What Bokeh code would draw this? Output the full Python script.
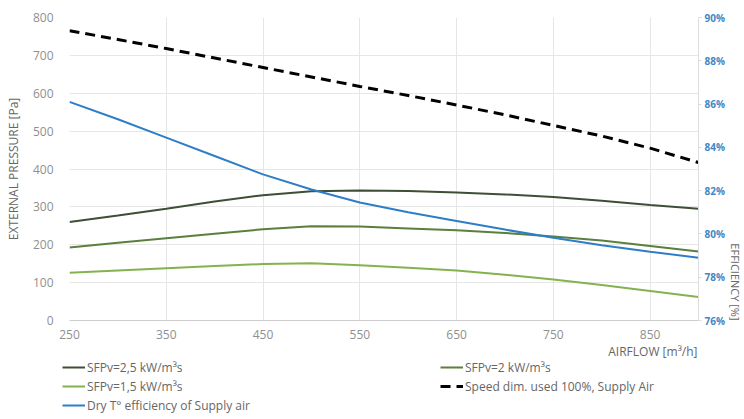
from bokeh.plotting import figure
from bokeh.layouts import column
from bokeh.models import (LinearAxis, Range1d, Legend, LegendItem, Title, Label,
                          PrintfTickFormatter, FixedTicker)
from bokeh.embed import file_html
from bokeh.resources import INLINE

# ---- data ----
airflow = [250, 300, 350, 400, 450, 500, 550, 600, 650, 700, 750, 800, 850, 900]
sfp_25 = [260, 277, 295, 314, 331, 341, 343, 342, 338, 333, 326, 316, 305, 295]
sfp_20 = [193, 205, 217, 229, 241, 249, 248, 243, 238, 231, 222, 211, 197, 182]
sfp_15 = [126, 132, 138, 144, 149, 151, 146, 139, 132, 121, 108, 94, 78, 62]
speed_100 = [765, 742, 718, 693, 668, 643, 618, 594, 569, 543, 515, 487, 455, 417]
dry_eff = [86.1, 85.3, 84.45, 83.6, 82.75, 82.05, 81.45, 81.0, 80.6, 80.2, 79.82, 79.48, 79.18, 78.9]

x_ticks = [250, 350, 450, 550, 650, 750, 850]
y_ticks = [0, 100, 200, 300, 400, 500, 600, 700, 800]
eff_ticks = [76, 78, 80, 82, 84, 86, 88, 90]

labels = ["SFPv=2,5 kW/m³s", "SFPv=2 kW/m³s", "SFPv=1,5 kW/m³s",
          "Speed dim. used 100%, Supply Air", "Dry T° efficiency of Supply air"]
colors = ["#3f4e37", "#5b7f3c", "#84b24e", "black", "#2e7dc7"]
dashes = ["solid", "solid", "solid", "10 6", "solid"]
widths = [2, 2, 2, 3, 2]

FONT = "Open Sans"
GRID = "#e6e6e6"
TXT = "#666666"

p = figure(width=744, height=342, x_range=Range1d(250, 900), y_range=Range1d(0, 800),
           output_backend="svg", toolbar_location=None,
           min_border_left=69, min_border_right=46, min_border_top=17, min_border_bottom=22)
p.outline_line_color = None
p.extra_y_ranges = {"eff": Range1d(76, 90)}

# primary axes
p.xaxis.ticker = FixedTicker(ticks=x_ticks)
p.yaxis.ticker = FixedTicker(ticks=y_ticks)
for ax in (p.xaxis[0], p.yaxis[0]):
    ax.major_label_text_font = FONT
    ax.major_label_text_font_size = "12px"
    ax.major_label_text_color = "#8f8f8f"
    ax.major_tick_line_color = None
    ax.minor_tick_line_color = None
p.xaxis.axis_line_color = "#cccccc"
p.yaxis.axis_line_color = None
p.xaxis.major_label_standoff = 3
p.yaxis.major_label_standoff = 10
p.yaxis.axis_label = "EXTERNAL PRESSURE [Pa]"
p.yaxis.axis_label_text_font = FONT
p.yaxis.axis_label_text_font_size = "12px"
p.yaxis.axis_label_text_font_style = "normal"
p.yaxis.axis_label_text_color = TXT
p.yaxis.axis_label_standoff = 8
p.xgrid.grid_line_color = GRID
p.ygrid.grid_line_color = GRID

# right efficiency axis
right = LinearAxis(y_range_name="eff", ticker=FixedTicker(ticks=eff_ticks),
                   formatter=PrintfTickFormatter(format="%d%%"))
right.major_label_text_font = FONT
right.major_label_text_font_size = "10px"
right.major_label_text_font_style = "bold"
right.major_label_text_color = "#3f88c5"
right.axis_line_color = "#dddddd"
right.major_tick_line_color = "#dddddd"
right.major_tick_out = 3
right.major_tick_in = 0
right.minor_tick_line_color = None
right.major_label_standoff = 3
p.add_layout(right, "right")

p.add_layout(Title(text="EFFICIENCY [%]", align="right", text_font=FONT, text_font_size="11px",
                   text_font_style="normal", text_color=TXT, standoff=0, offset=0), "right")

# lines
for ys, c, w, d in zip([sfp_25, sfp_20, sfp_15, speed_100], colors, widths, dashes):
    p.line(airflow, ys, line_color=c, line_width=w, line_dash=d)
p.line(airflow, dry_eff, y_range_name="eff", line_color=colors[4], line_width=2)

# legend strip below the chart
lf = figure(width=744, height=77, x_range=Range1d(0, 744), y_range=Range1d(0, 77),
            output_backend="svg", toolbar_location=None,
            x_axis_location=None, y_axis_location=None, min_border=0)
lf.frame_align = False
lf.outline_line_color = None
lf.grid.visible = False
lr = [lf.line([0], [0], line_color=c, line_width=w, line_dash=d)
      for c, w, d in zip(colors, widths, dashes)]

def make_legend(items, loc):
    lg = Legend(items=items, location=loc, orientation="vertical")
    lg.padding = 0
    lg.margin = 0
    lg.spacing = 1
    lg.border_line_color = None
    lg.background_fill_alpha = 0
    lg.glyph_width = 23
    lg.glyph_height = 18
    lg.label_height = 18
    lg.label_standoff = 2
    lg.label_text_font = FONT
    lg.label_text_font_size = "12px"
    lg.label_text_color = TXT
    return lg

leg1 = make_legend([LegendItem(label=labels[0], renderers=[lr[0]]),
                    LegendItem(label=labels[2], renderers=[lr[2]]),
                    LegendItem(label=labels[4], renderers=[lr[4]])], (62, 5))
leg2 = make_legend([LegendItem(label=labels[1], renderers=[lr[1]]),
                    LegendItem(label=labels[3], renderers=[lr[3]])], (440, 24))
lf.add_layout(leg1, "center")
lf.add_layout(leg2, "center")
lf.add_layout(Label(x=697, y=68, text="AIRFLOW [m³/h]", text_align="right",
                    text_baseline="middle", text_font=FONT, text_font_size="12px",
                    text_color=TXT))

layout = column(p, lf, spacing=0)
open("out.html", "w").write(file_html(layout, INLINE))
